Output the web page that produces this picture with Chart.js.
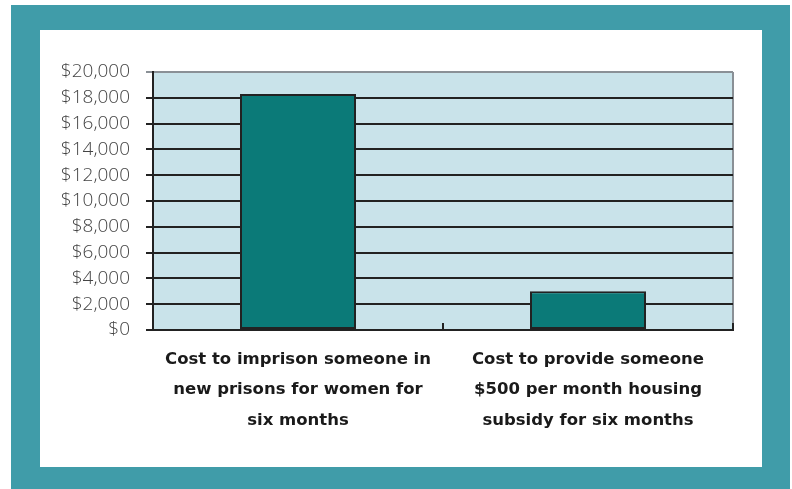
<!DOCTYPE html>
<html>
<head>
<meta charset="utf-8">
<script src="https://cdn.jsdelivr.net/npm/chart.js@4/dist/chart.umd.min.js"></script>
<style>
  html, body { margin: 0; padding: 0; background: #fff; }
  body { width: 792px; height: 489px; position: relative; overflow: hidden; }
  #frame { position: absolute; left: 11px; top: 5px; width: 779px; height: 484px; background: #409ca9; }
  #panel { position: absolute; left: 40px; top: 30px; width: 722px; height: 437px; background: #fff; }
  #wrap { position: absolute; left: 0; top: 0; width: 792px; height: 489px; }
</style>
</head>
<body>
<div id="frame"></div>
<div id="panel"></div>
<div id="wrap"><canvas id="grafico"></canvas></div>
<script>
// categorias e valores
const categorias = [
    ['Cost to imprison someone in', 'new prisons for women for', 'six months'],
    ['Cost to provide someone', '$500 per month housing', 'subsidy for six months']
];
const custos = [18300, 3000];
const yMax = 20000;
const yStep = 2000;

// fundo da area do grafico e marca do meio no eixo x
const fundoPlugin = {
    id: 'fundo',
    beforeDraw(chart) {
        const a = chart.chartArea, ctx = chart.ctx;
        ctx.save();
        ctx.fillStyle = '#c9e3ea';
        ctx.fillRect(a.left, a.top, a.right - a.left, a.bottom - a.top);
        ctx.strokeStyle = '#8a9096';
        ctx.lineWidth = 2;
        ctx.beginPath();
        ctx.moveTo(a.right, a.top);
        ctx.lineTo(a.right, a.bottom);
        ctx.stroke();
        ctx.restore();
    },
    afterDraw(chart) {
        const x = chart.scales.x, ctx = chart.ctx, a = chart.chartArea;
        ctx.save();
        ctx.strokeStyle = '#222';
        ctx.lineWidth = 2;
        const meio = (x.getPixelForValue(0) + x.getPixelForValue(1)) / 2;
        [meio, a.right].forEach(function(px) {
            ctx.beginPath();
            ctx.moveTo(px, a.bottom);
            ctx.lineTo(px, a.bottom - 7);
            ctx.stroke();
        });
        ctx.restore();
    }
};

new Chart(document.getElementById('grafico'), {
    type: 'bar',
    data: {
        labels: categorias,
        datasets: [{
            data: custos,
            backgroundColor: '#0b7a78',
            borderColor: '#222',
            borderWidth: 2,
            borderSkipped: false,
            barPercentage: 0.8,
            categoryPercentage: 0.5
        }]
    },
    options: {
        responsive: true,
        maintainAspectRatio: false,
        animation: false,
        devicePixelRatio: 1,
        layout: { padding: { top: 72, right: 59, left: 0, bottom: 0 } },
        plugins: {
            legend: { display: false },
            tooltip: { enabled: false }
        },
        scales: {
            y: {
                min: 0,
                max: yMax,
                ticks: {
                    stepSize: yStep,
                    autoSkip: false,
                    color: '#444',
                    padding: 16,
                    font: { family: 'Open Sans', size: 19, weight: 300, lineHeight: 1 },
                    callback: function(v) { return '$' + v.toLocaleString('en-US'); }
                },
                grid: {
                    color: function(c) { return c.tick && c.tick.value === yMax ? '#8a9096' : '#222'; },
                    lineWidth: 2,
                    tickLength: 7
                },
                border: { color: '#222', width: 2 },
                afterFit: function(s) { s.width = 153; }
            },
            x: {
                grid: { display: false },
                border: { color: '#222', width: 2 },
                ticks: {
                    color: '#1a1a1a',
                    padding: 6,
                    maxRotation: 0,
                    font: { family: 'DejaVu Sans', size: 16.5, weight: 'bold', lineHeight: 1.85 }
                },
                afterFit: function(s) { s.height = 159; }
            }
        }
    },
    plugins: [fundoPlugin]
});
</script>
</body>
</html>
